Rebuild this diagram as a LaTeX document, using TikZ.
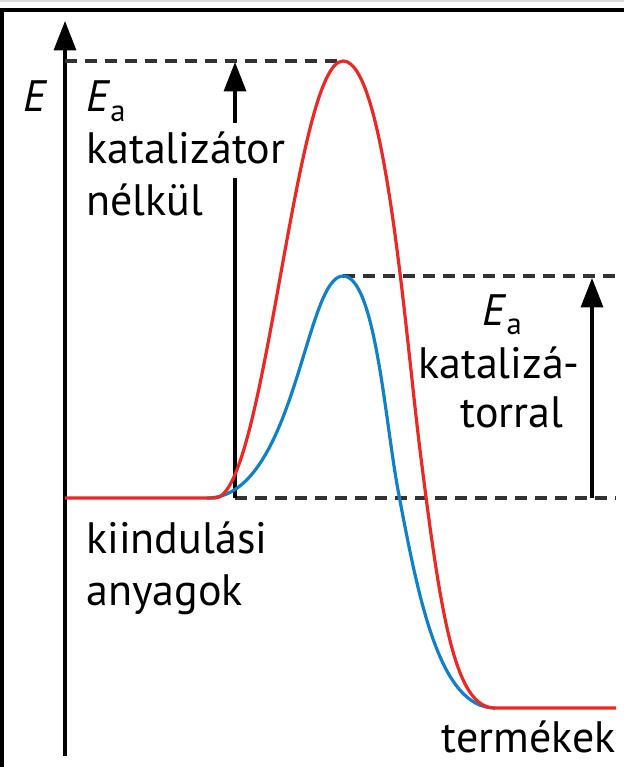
\documentclass[tikz,border=0pt]{standalone}
\usepackage{fontspec}
\setmainfont{PT Sans}
\usetikzlibrary{arrows.meta}
\definecolor{curvered}{RGB}{236,40,36}
\definecolor{curveblue}{RGB}{16,128,200}
\definecolor{dashgrey}{RGB}{50,50,50}
\newcommand{\Ea}{\textit{E}\raisebox{-0.22em}{\fontsize{23}{23}\selectfont a}}
\tikzset{
  axisline/.style={line width=2.4pt,-{Triangle[length=22pt,width=16.5pt]}},
  plainline/.style={line width=2.4pt},
  guide/.style={dashgrey,line width=2.3pt,dash pattern=on 9pt off 6pt},
  txt/.style={font=\fontsize{33}{38}\selectfont,inner sep=0pt},
  redcurve/.style={curvered,line width=2.4pt},
  bluecurve/.style={curveblue,line width=2.4pt},
}
\begin{document}
\begin{tikzpicture}[x=0.75pt,y=-0.75pt]
\useasboundingbox (0,0) rectangle (624,767);
% frame
\fill[black!15] (0,0) rectangle (624,2);
\fill (0,8) rectangle (624,12);
\fill (0,8) rectangle (4,767);

% energy axis
\coordinate (O) at (65,756);
\coordinate (Etop) at (65,21);
\draw[axisline] (O) -- (Etop);
\draw(36,112) node[txt,anchor=base] (E) {\textit{E}};

% levels
\coordinate (start) at (65,498);
\coordinate (rise) at (215,498);
\coordinate (peakR) at (343,61);
\coordinate (peakB) at (343,276);
\coordinate (prod) at (495,708);
\coordinate (endR) at (616,708);
\coordinate (hiL) at (65,61);
\coordinate (hiR) at (616,276);
\coordinate (a1) at (235,498);
\coordinate (loR) at (616,498);

\draw[guide] (hiL) -- (peakR);
\draw[guide] (peakB) -- (hiR);
\draw[guide] (a1) -- (loR);

% activation energy without catalyst
\coordinate (g1) at (235,123);
\coordinate (g2) at (235,178);
\coordinate (a1top) at (235,62);
\draw[plainline] (a1) -- (g2);
\draw[axisline] (g1) -- (a1top);

% activation energy with catalyst
\coordinate (a2) at (592,498);
\coordinate (a2top) at (592,278);
\draw[axisline] (a2) -- (a2top);

% curves
\draw[bluecurve] (207,498) .. controls (295,498) and (305,276) .. (peakB)
  .. controls (375,276) and (385,420) .. (398,490)
  .. controls (419,602) and (440,708) .. (prod);
\draw[redcurve] (start) -- (rise) .. controls (265,498) and (295,61) .. (peakR)
  .. controls (385,61) and (405,330) .. (420,450)
  .. controls (441,618) and (455,708) .. (prod) -- (endR);

% labels
\draw(86,112) node[txt,anchor=base west] (Ea1) {\Ea};
\draw(86,163) node[txt,anchor=base west] (kat1) {katalizátor};
\draw(86,215) node[txt,anchor=base west] (nel) {nélkül};

\draw(502,325) node[txt,anchor=base] (Ea2) {\Ea};
\draw(499,378) node[txt,anchor=base] (kat2) {katalizá-};
\draw(512,427) node[txt,anchor=base] (tor) {torral};

\draw(86,553) node[txt,anchor=base west] (kiin) {kiindulási};
\draw(86,605) node[txt,anchor=base west] (any) {anyagok};
\draw(616,752) node[txt,anchor=base east] (term) {termékek};
\end{tikzpicture}
\end{document}
